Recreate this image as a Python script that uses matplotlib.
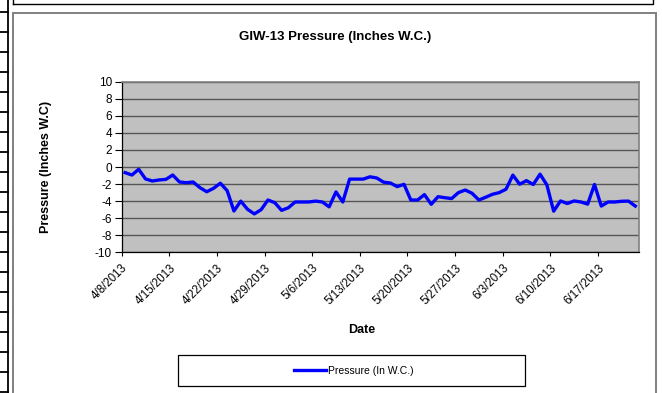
import matplotlib
matplotlib.use("Agg")
import matplotlib.pyplot as plt
from matplotlib.patches import Rectangle
from matplotlib.lines import Line2D
from datetime import datetime, timedelta

plt.rcParams['font.family'] = ['Liberation Sans', 'DejaVu Sans']
plt.rcParams['axes.unicode_minus'] = False

# daily readings starting 4/8/2013
start_date = datetime(2013, 4, 8)
pressure = [
    -0.66, -0.94, -0.27, -1.40, -1.64, -1.52, -1.45, -0.94, -1.76, -1.84,
    -1.76, -2.42, -2.90, -2.50, -1.90, -2.77, -5.16, -4.00, -4.96, -5.50,
    -5.00, -3.87, -4.18, -5.08, -4.78, -4.10, -4.10, -4.10, -4.00, -4.10,
    -4.67, -2.92, -4.10, -1.42, -1.42, -1.42, -1.15, -1.29, -1.78, -1.88,
    -2.30, -2.03, -3.87, -3.87, -3.24, -4.37, -3.48, -3.60, -3.70, -3.00,
    -2.70, -3.08, -3.87, -3.55, -3.20, -3.00, -2.60, -0.95, -2.02, -1.60,
    -2.05, -0.84, -2.10, -5.18, -3.98, -4.28, -3.98, -4.10, -4.35, -2.05,
    -4.58, -4.10, -4.10, -4.02, -4.00, -4.58,
]
dates = [start_date + timedelta(days=i, hours=12) for i in range(len(pressure))]
tick_dates = [start_date + timedelta(days=7 * k) for k in range(11)]
y_ticks = list(range(-10, 11, 2))

W, H = 662, 393
fig = plt.figure(figsize=(W / 100, H / 100), dpi=100)
fig.patch.set_facecolor('white')

# sheet edge decorations around the chart object
fig.add_artist(Line2D([8 / W, 8 / W], [0, 1], color='black', lw=1.3))
for yy in range(12, H, 20):
    fig.add_artist(Line2D([0, 8 / W], [1 - yy / H, 1 - yy / H], color='black', lw=1.3))
fig.add_artist(Line2D([12.5 / W, 653 / W, 653 / W], [1 - 4 / H, 1 - 4 / H, 1], color='black', lw=1.0))
fig.add_artist(Line2D([12.5 / W, 12.5 / W], [1 - 4 / H, 1], color='black', lw=1.0))
fig.add_artist(Rectangle((12.5 / W, -0.05), (656 - 12.5) / W, 1.05 - 12.5 / H,
                         transform=fig.transFigure, fill=False, edgecolor='#808080', lw=1.4))

ax = fig.add_axes([121.7 / W, 1 - 252.3 / H, (638.7 - 121.7) / W, (252.3 - 81.7) / H])
ax.set_facecolor('#C0C0C0')
ax.plot(dates, pressure, color='#0000FF', lw=2.4, solid_joinstyle='round')

ax.set_ylim(-10, 10)
ax.set_yticks(y_ticks)
ax.set_xlim(start_date, start_date + timedelta(days=76))
ax.set_xticks(tick_dates)
ax.set_xticklabels([f"{d.month}/{d.day}/{d.year}" for d in tick_dates],
                   rotation=45, ha='right', rotation_mode='anchor')

ax.yaxis.grid(True, color='#555555', lw=1.0)
ax.set_axisbelow(True)
for side in ('top', 'right'):
    ax.spines[side].set_color('#808080')
    ax.spines[side].set_linewidth(1.2)
for side in ('left', 'bottom'):
    ax.spines[side].set_color('black')
    ax.spines[side].set_linewidth(0.9)

ax.tick_params(axis='y', direction='out', length=5, width=0.8, pad=2, labelsize=8.5)
ax.tick_params(axis='x', direction='out', length=3, width=0.8, pad=4, labelsize=8.3)

fig.text(335 / W, 1 - 37 / H, 'GIW-13 Pressure (Inches W.C.)', ha='center', va='center',
         fontsize=9.5, fontweight='bold')
fig.text(46 / W, 1 - 167 / H, 'Pressure (Inches W.C)', ha='center', va='center',
         rotation=90, fontsize=9, fontweight='bold')
fig.text(362 / W, 1 - 330 / H, 'Date', ha='center', va='center',
         fontsize=9, fontweight='bold')

# legend box
fig.add_artist(Rectangle((177.5 / W, 1 - 386 / H), (525 - 177.5) / W, (386 - 354.5) / H,
                         transform=fig.transFigure, fill=False, edgecolor='black', lw=0.9))
handle = Line2D([], [], color='#0000FF', lw=2.4)
fig.legend([handle], ['Pressure (In W.C.)'], loc='center left',
           bbox_to_anchor=(294 / W, 1 - 371 / H), frameon=False, fontsize=7.5,
           borderpad=0, borderaxespad=0, handlelength=3.1, handletextpad=0.2)

fig.savefig('out.png', dpi=100)
